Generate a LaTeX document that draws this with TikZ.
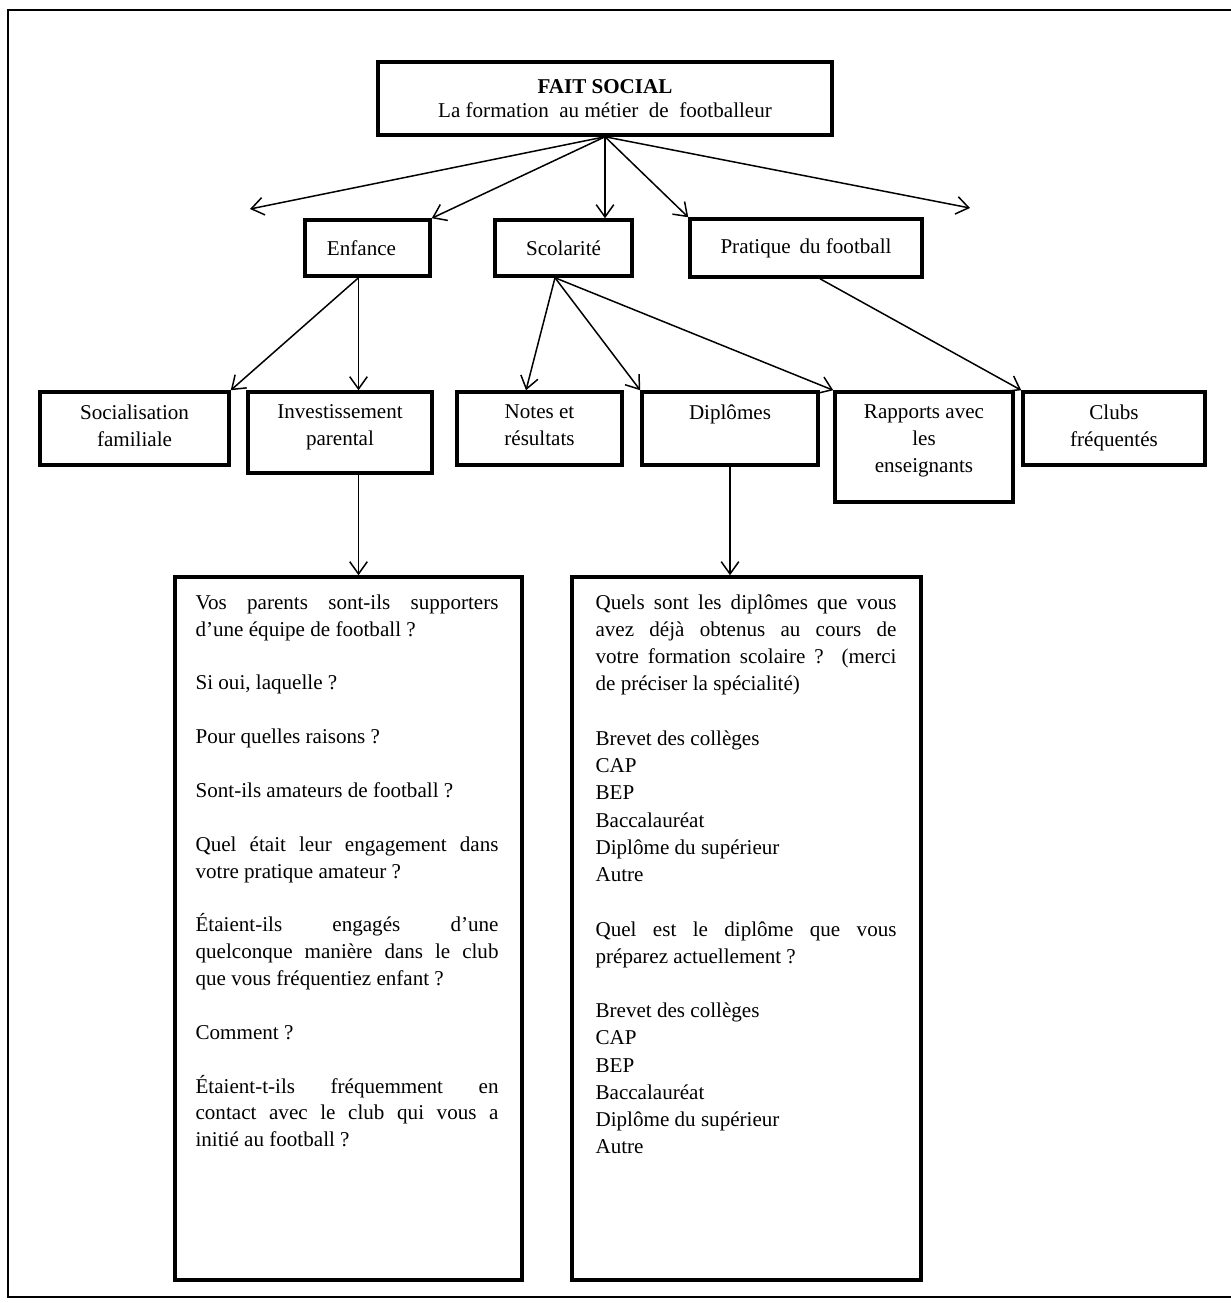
\documentclass[tikz,border=0pt]{standalone}
\usepackage{fontspec}
\setmainfont{Liberation Serif}
\usetikzlibrary{arrows.meta,fit}

\tolerance=10000
\hbadness=10000

\tikzset{
  box/.style={draw, line width=2pt, inner sep=0pt},
  txt/.style={align=center, inner sep=0pt, font=\fontsize{12}{15.3}\selectfont},
  qtxt/.style={inner sep=0pt, anchor=north west, font=\fontsize{12}{15.3}\selectfont},
  arr/.style={line width=0.85pt, -{Straight Barb[length=7pt,width=10pt]}}
}

\begin{document}
\begin{tikzpicture}[x=0.02cm,y=-0.02cm]
  \useasboundingbox (0,0) rectangle (1231,1303);
  \draw[line width=1.2pt] (1240,10) -- (8,10) -- (8,1297) -- (1240,1297);

  % fait social
  \node[box, fit={(378,62) (832,135)}] (fs) {};
  \node[txt, font=\fontsize{12}{13.6}\selectfont] (fs-t) at (fs) {\textbf{FAIT SOCIAL}\\La formation\hspace{3pt} au métier\hspace{3pt} de\hspace{3pt} footballeur};

  % themes
  \node[box, fit={(305,220) (430,276)}] (enf) {};
  \node[txt] (enf-t) at ([xshift=-0.12cm]enf) {Enfance};
  \node[box, fit={(495,220) (632,276)}] (scol) {};
  \node[txt] (scol-t) at (scol) {Scolarité};
  \node[box, fit={(690,219) (922,277)}] (prat) {};
  \node[txt] (prat-t) at (prat) {Pratique\hspace{2pt} du football};

  % sous-themes
  \node[box, fit={(40,392) (229,465)}] (soc) {};
  \node[txt, anchor=north] (soc-t) at ([yshift=-0.28cm]soc.north) {Socialisation\\familiale};
  \node[box, fit={(248,392) (432,473)}] (inv) {};
  \node[txt, anchor=north] (inv-t) at ([yshift=-0.28cm]inv.north) {Investissement\\parental};
  \node[box, fit={(457,392) (622,465)}] (notes) {};
  \node[txt, anchor=north] (notes-t) at ([yshift=-0.28cm]notes.north) {Notes et\\résultats};
  \node[box, fit={(642,392) (818,465)}] (dipl) {};
  \node[txt, anchor=north] (dipl-t) at ([yshift=-0.28cm]dipl.north) {Diplômes};
  \node[box, fit={(835,392) (1013,502)}] (rap) {};
  \node[txt, anchor=north] (rap-t) at ([yshift=-0.28cm]rap.north) {Rapports avec\\les\\enseignants};
  \node[box, fit={(1023,392) (1205,465)}] (clubs) {};
  \node[txt, anchor=north] (clubs-t) at ([yshift=-0.28cm]clubs.north) {Clubs\\fréquentés};

  % questions
  \node[box, fit={(175,577) (522,1280)}] (qa) {};
  \node[qtxt] (qa-t) at ([xshift=0.44cm,yshift=-0.38cm]qa.north west) {\begin{minipage}[t]{6.06cm}\setlength{\parskip}{15.3pt}
    Vos parents sont-ils supporters\linebreak d’une équipe de football~?

    Si oui, laquelle~?

    Pour quelles raisons~?

    Sont-ils amateurs de football~?

    Quel était leur engagement dans\linebreak votre pratique amateur~?

    Étaient-ils engagés d’une\linebreak quelconque manière dans le club\linebreak que vous fréquentiez enfant~?

    Comment~?

    Étaient-t-ils fréquemment en\linebreak contact avec le club qui vous a\linebreak initié au football~?
  \end{minipage}};
  \node[box, fit={(572,577) (921,1280)}] (qb) {};
  \node[qtxt, font=\fontsize{12}{15.5}\selectfont] (qb-t) at ([xshift=0.5cm,yshift=-0.38cm]qb.north west) {\begin{minipage}[t]{6.02cm}\setlength{\parskip}{15.5pt}
    Quels sont les diplômes que vous\linebreak avez déjà obtenus au cours de\linebreak votre formation scolaire~? (merci\linebreak de préciser la spécialité)

    Brevet des collèges\\ CAP\\ BEP\\ Baccalauréat\\ Diplôme du supérieur\\ Autre

    Quel est le diplôme que vous\linebreak préparez actuellement~?

    Brevet des collèges\\ CAP\\ BEP\\ Baccalauréat\\ Diplôme du supérieur\\ Autre
  \end{minipage}};

  % connecteurs
  \coordinate (l1) at (250,209);
  \coordinate (r1) at (970,208);
  \draw[arr] (fs.south) -- (l1);
  \draw[arr] (fs.south) -- (enf.north east);
  \draw[arr] (fs.south) -- (fs.south |- scol.north);
  \draw[arr] (fs.south) -- (prat.north west);
  \draw[arr] (fs.south) -- (r1);

  \coordinate (e0) at ([xshift=-0.18cm]enf.south);
  \draw[arr] (e0) -- (soc.north east);
  \draw[arr] (e0) -- (e0 |- inv.north);
  \coordinate (s0) at ([xshift=-0.17cm]scol.south);
  \draw[arr] (s0) -- ([xshift=-0.27cm]notes.north);
  \draw[arr] (s0) -- (dipl.north west);
  \draw[arr] (s0) -- (rap.north west);
  \draw[arr] ([xshift=0.28cm]prat.south) -- (clubs.north west);

  \draw[arr] (e0 |- inv.south) -- (e0 |- qa.north);
  \draw[arr] (dipl.south) -- (dipl.south |- qb.north);
\end{tikzpicture}
\end{document}
